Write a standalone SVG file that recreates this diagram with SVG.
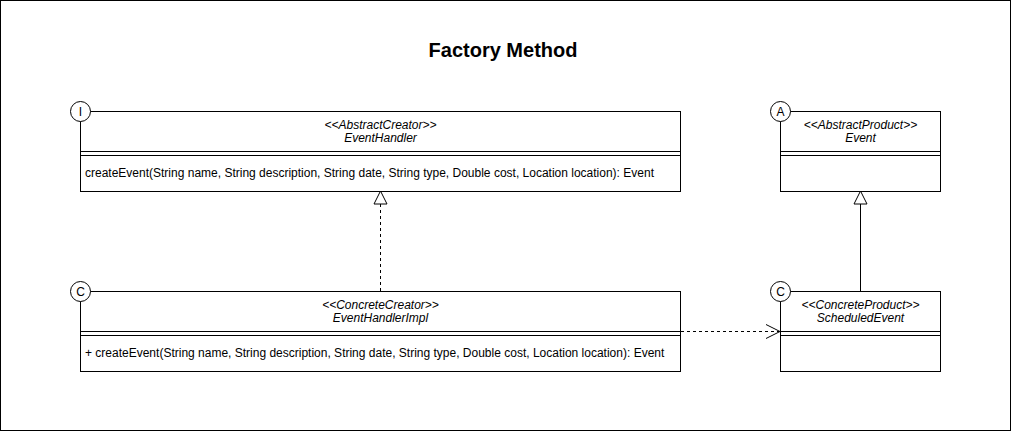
<svg xmlns="http://www.w3.org/2000/svg" width="1012" height="432" viewBox="0 0 1012 432">
<style>
.box{fill:#fff;stroke:#000;stroke-width:1}
.ln{stroke:#000;stroke-width:1;fill:none}
.t{font-family:"Liberation Sans",Arial,sans-serif;font-size:12px;fill:#000}
.it{font-style:italic;text-anchor:middle}
.badge{fill:#fff;stroke:#000;stroke-width:1}
.bt{text-anchor:middle}
</style>
<rect x="0.5" y="0.5" width="1010" height="430" fill="#fff" stroke="#000"/>
<text x="503" y="57" text-anchor="middle" font-family="Liberation Sans,Arial,sans-serif" font-size="20" font-weight="bold">Factory Method</text>
<g id="connectors">
<line class="ln" x1="380.5" y1="291" x2="380.5" y2="204" stroke-dasharray="3,3"/>
<polygon points="380.5,191 374,204 387,204" fill="#fff" stroke="#000"/>
<line class="ln" x1="860.5" y1="291" x2="860.5" y2="204"/>
<polygon points="860.5,191 854,204 867,204" fill="#fff" stroke="#000"/>
<line class="ln" x1="681" y1="331.5" x2="779" y2="331.5" stroke-dasharray="3,3"/>
<polyline class="ln" points="766,324.5 780,331.5 766,338.5"/>
</g>
<g id="EventHandler">
<rect class="box" x="80.5" y="111.5" width="600" height="80"/>
<line class="ln" x1="80.5" y1="151.5" x2="680.5" y2="151.5"/>
<line class="ln" x1="80.5" y1="155.5" x2="680.5" y2="155.5"/>
<text class="t it" x="380.5" y="129">&lt;&lt;AbstractCreator&gt;&gt;</text>
<text class="t it" x="380.5" y="142">EventHandler</text>
<text class="t" x="85" y="177">createEvent(String name, String description, String date, String type, Double cost, Location location): Event</text>
<circle class="badge" cx="80.5" cy="111.5" r="10"/>
<text class="t bt" x="80.5" y="116">I</text>
</g>
<g id="Event">
<rect class="box" x="780.5" y="111.5" width="160" height="80"/>
<line class="ln" x1="780.5" y1="151.5" x2="940.5" y2="151.5"/>
<line class="ln" x1="780.5" y1="155.5" x2="940.5" y2="155.5"/>
<text class="t it" x="860.5" y="129">&lt;&lt;AbstractProduct&gt;&gt;</text>
<text class="t it" x="860.5" y="142">Event</text>
<circle class="badge" cx="780.5" cy="111.5" r="10"/>
<text class="t bt" x="780.5" y="116">A</text>
</g>
<g id="EventHandlerImpl">
<rect class="box" x="80.5" y="291.5" width="600" height="80"/>
<line class="ln" x1="80.5" y1="331.5" x2="680.5" y2="331.5"/>
<line class="ln" x1="80.5" y1="335.5" x2="680.5" y2="335.5"/>
<text class="t it" x="380.5" y="309">&lt;&lt;ConcreteCreator&gt;&gt;</text>
<text class="t it" x="380.5" y="322">EventHandlerImpl</text>
<text class="t" x="85" y="357">+ createEvent(String name, String description, String date, String type, Double cost, Location location): Event</text>
<circle class="badge" cx="80.5" cy="291.5" r="10"/>
<text class="t bt" x="80.5" y="296">C</text>
</g>
<g id="ScheduledEvent">
<rect class="box" x="780.5" y="291.5" width="160" height="80"/>
<line class="ln" x1="780.5" y1="331.5" x2="940.5" y2="331.5"/>
<line class="ln" x1="780.5" y1="335.5" x2="940.5" y2="335.5"/>
<text class="t it" x="860.5" y="309">&lt;&lt;ConcreteProduct&gt;&gt;</text>
<text class="t it" x="860.5" y="322">ScheduledEvent</text>
<circle class="badge" cx="780.5" cy="291.5" r="10"/>
<text class="t bt" x="780.5" y="296">C</text>
</g>
</svg>
